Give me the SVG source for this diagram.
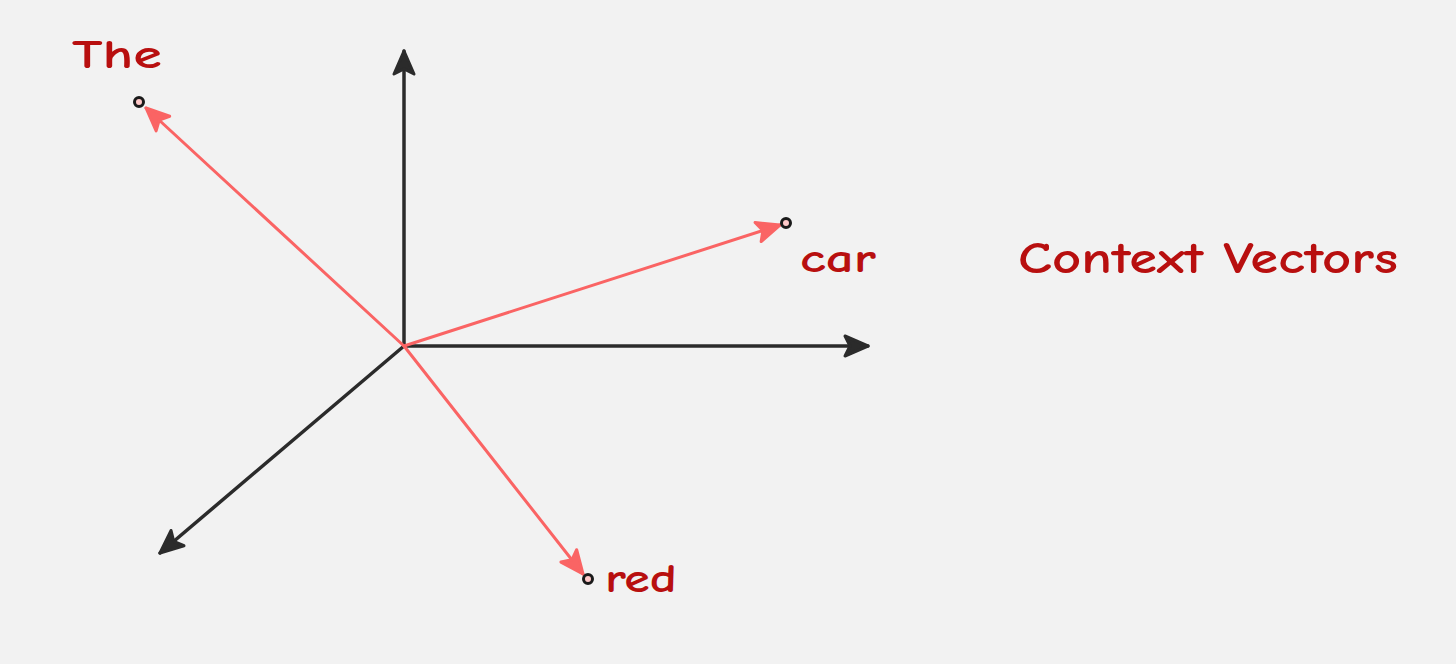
<svg xmlns="http://www.w3.org/2000/svg" width="1456" height="664" viewBox="0 0 1456 664">
<style>
.axis{stroke:#2b2b2b;stroke-width:3.5;fill:none;stroke-linecap:round}
.vec{stroke:#fa6464;stroke-width:3;fill:none;stroke-linecap:round}
.pt{stroke:#1a1a1a;stroke-width:3;fill:#ffc9c9}
.lbl{font-family:"Comic Neue","Liberation Sans",sans-serif;font-weight:bold;fill:#b80f0f;font-size:40px}
</style>
<defs>
<marker id="ah-black" markerUnits="userSpaceOnUse" viewBox="0 0 28 24" markerWidth="28" markerHeight="24" refX="26" refY="12" orient="auto">
<path d="M26 12 L3 2 L8 12 L3 22 Z" fill="#2b2b2b" stroke="#2b2b2b" stroke-width="3" stroke-linejoin="round"/>
</marker>
<marker id="ah-red" markerUnits="userSpaceOnUse" viewBox="0 0 28 24" markerWidth="28" markerHeight="24" refX="26" refY="12" orient="auto">
<path d="M26 12 L3 2 L8 12 L3 22 Z" fill="#fa6464" stroke="#fa6464" stroke-width="3" stroke-linejoin="round"/>
</marker>
</defs>
<rect width="1456" height="664" fill="#f2f2f2"/>
<g id="connectors">
<line class="axis" x1="404" y1="346" x2="404" y2="51" marker-end="url(#ah-black)"/>
<line class="axis" x1="404" y1="346" x2="868" y2="346" marker-end="url(#ah-black)"/>
<line class="axis" x1="404" y1="346" x2="160" y2="553" marker-end="url(#ah-black)"/>
<line class="vec" x1="404" y1="346" x2="146" y2="108" marker-end="url(#ah-red)"/>
<line class="vec" x1="404" y1="346" x2="780" y2="225" marker-end="url(#ah-red)"/>
<line class="vec" x1="404" y1="346" x2="583" y2="574" marker-end="url(#ah-red)"/>
</g>
<g id="node-the">
<circle class="pt" cx="139" cy="102" r="4.5"/>
<text class="lbl" x="72" y="68" textLength="90" lengthAdjust="spacingAndGlyphs">The</text>
</g>
<g id="node-car">
<circle class="pt" cx="786" cy="223" r="4.5"/>
<text class="lbl" x="800" y="272" textLength="76" lengthAdjust="spacingAndGlyphs">car</text>
</g>
<g id="node-red">
<circle class="pt" cx="588" cy="579" r="4.5"/>
<text class="lbl" x="605" y="592" textLength="72" lengthAdjust="spacingAndGlyphs">red</text>
</g>
<g id="title">
<text class="lbl" x="1018" y="273" style="font-size:44px" textLength="380" lengthAdjust="spacingAndGlyphs">Context Vectors</text>
</g>
</svg>
